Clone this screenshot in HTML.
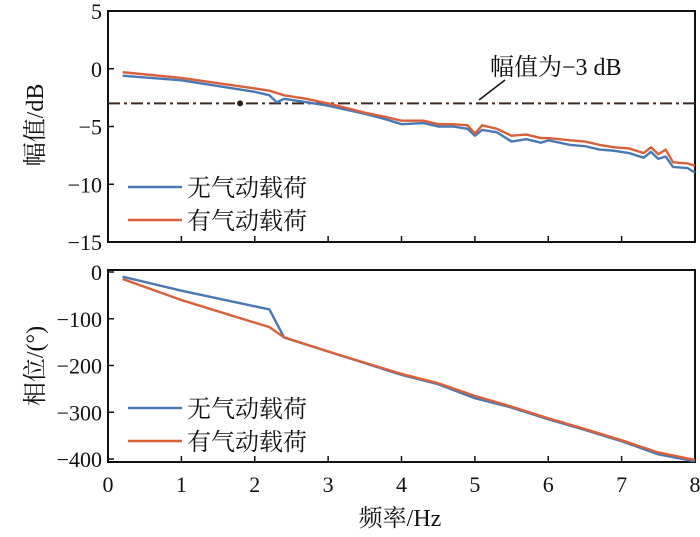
<!DOCTYPE html>
<html><head><meta charset="utf-8"><style>
body{margin:0;background:#fff;width:700px;height:532px;overflow:hidden}
svg text{font-family:"Liberation Serif","Noto Serif CJK SC","Noto Sans CJK SC",serif;fill:#111}
</style></head><body>
<svg id="c" width="700" height="532"></svg>
<script>
const xTicks=[0,1,2,3,4,5,6,7,8];
const magTicks=[5,0,-5,-10,-15];
const phTicks=[0,-100,-200,-300,-400];
const magX=[0.2,1,2,2.2,2.3,2.4,2.7,3,3.5,3.8,4,4.3,4.5,4.7,4.9,5.0,5.1,5.3,5.5,5.7,5.9,6.0,6.3,6.5,6.7,6.9,7.1,7.3,7.4,7.5,7.6,7.7,7.9,8.0];
const magNo=[-0.6,-1.0,-2.0,-2.3,-2.9,-2.6,-2.9,-3.2,-3.9,-4.4,-4.8,-4.7,-5.0,-5.0,-5.2,-5.8,-5.3,-5.5,-6.3,-6.1,-6.4,-6.2,-6.6,-6.7,-7.0,-7.1,-7.3,-7.7,-7.2,-7.8,-7.6,-8.5,-8.6,-9.0];
const magYes=[-0.3,-0.8,-1.7,-1.9,-2.1,-2.3,-2.6,-3.0,-3.8,-4.2,-4.5,-4.5,-4.8,-4.8,-4.9,-5.6,-4.9,-5.2,-5.8,-5.7,-6.0,-6.0,-6.2,-6.3,-6.6,-6.8,-6.9,-7.3,-6.8,-7.4,-7.0,-8.1,-8.2,-8.4];
const phX=[0.2,1,2.2,2.4,3,4,4.5,5,5.5,6,6.5,7,7.5,8];
const phNo=[-10,-40,-80,-140,-170,-220,-240,-270,-290,-315,-338,-362,-390,-405];
const phYes=[-15,-60,-118,-140,-170,-218,-238,-265,-288,-313,-336,-360,-386,-402];
const ns="http://www.w3.org/2000/svg",svg=document.getElementById('c');
const L=108,R=695;
const xs=v=>L+(R-L)*v/8;
const ym=v=>11+(5-v)*(242-11)/20;
const yp=v=>272+(-v)*(459-272)/400;
function el(t,a,p){const e=document.createElementNS(ns,t);for(const k in a)e.setAttribute(k,a[k]);(p||svg).appendChild(e);return e;}
function txt(x,y,s,a,p){const e=el('text',Object.assign({x:x,y:y},a||{}),p);e.textContent=s;return e;}
function panel(name,top,bot,ticks,yf,xlab){
 const g=el('g',{});
 const f=el('rect',{x:L,y:top,width:R-L,height:bot-top,fill:'none',stroke:'#111','stroke-width':2},g);
 
 ticks.forEach(t=>{const y=yf(t);el('line',{x1:L,x2:L+6,y1:y,y2:y,stroke:'#111','stroke-width':1.5},g);
  const tt=txt(L-6,y+8,String(t).replace('-','−'),{'text-anchor':'end','font-size':22},g);
  });
 xTicks.forEach(t=>{const x=xs(t);el('line',{x1:x,x2:x,y1:bot,y2:bot-6,stroke:'#111','stroke-width':1.5},g);
  if(xlab){const tt=txt(x,bot+30,String(t),{'text-anchor':'middle','font-size':22},g);
  }});
 return g;}
function line(X,Y,yf,col,name,g){const p=el('polyline',{points:X.map((x,i)=>xs(x)+','+yf(Y[i])).join(' '),fill:'none',stroke:col,'stroke-width':2.4,'stroke-linejoin':'round'},g);
 }
function legend(g,y0){[['无气动载荷','#4a78b4'],['有气动载荷','#d9603a']].forEach((d,i)=>{const y=y0+i*33;
 const l=el('line',{x1:128,x2:182,y1:y,y2:y,stroke:d[1],'stroke-width':2.5},g);
 const t=txt(187,y+9,d[0],{'font-size':24},g);});}
const g1=panel('magnitude-panel',11,242,magTicks,ym,false);
const ref=el('line',{x1:L,x2:R,y1:ym(-3),y2:ym(-3),stroke:'#3a2a22','stroke-width':2,'stroke-dasharray':'12,4,3,4'},g1);

line(magX,magNo,ym,'#4a78b4','series-no-aero',g1);
line(magX,magYes,ym,'#d9603a','series-with-aero',g1);
const dot=el('circle',{cx:xs(1.8),cy:ym(-3),r:3,fill:'#222'},g1);
el('line',{x1:479,y1:100,x2:505,y2:80,stroke:'#111','stroke-width':1.5},g1);
const an=txt(490,75,'幅值为−3 dB',{'font-size':24},g1);
legend(g1,187);
const g2=panel('phase-panel',270,462,phTicks,yp,true);
line(phX,phNo,yp,'#4a78b4','series-no-aero-phase',g2);
line(phX,phYes,yp,'#d9603a','series-with-aero-phase',g2);
legend(g2,408);
let t=txt(0,0,'幅值/dB',{'font-size':24,transform:'translate(43,125) rotate(-90)','text-anchor':'middle'});
t=txt(0,0,'相位/(°)',{'font-size':24,transform:'translate(43,366) rotate(-90)','text-anchor':'middle'});
t=txt(400,526,'频率/Hz',{'font-size':24,'text-anchor':'middle'});
</script>
</body></html>
